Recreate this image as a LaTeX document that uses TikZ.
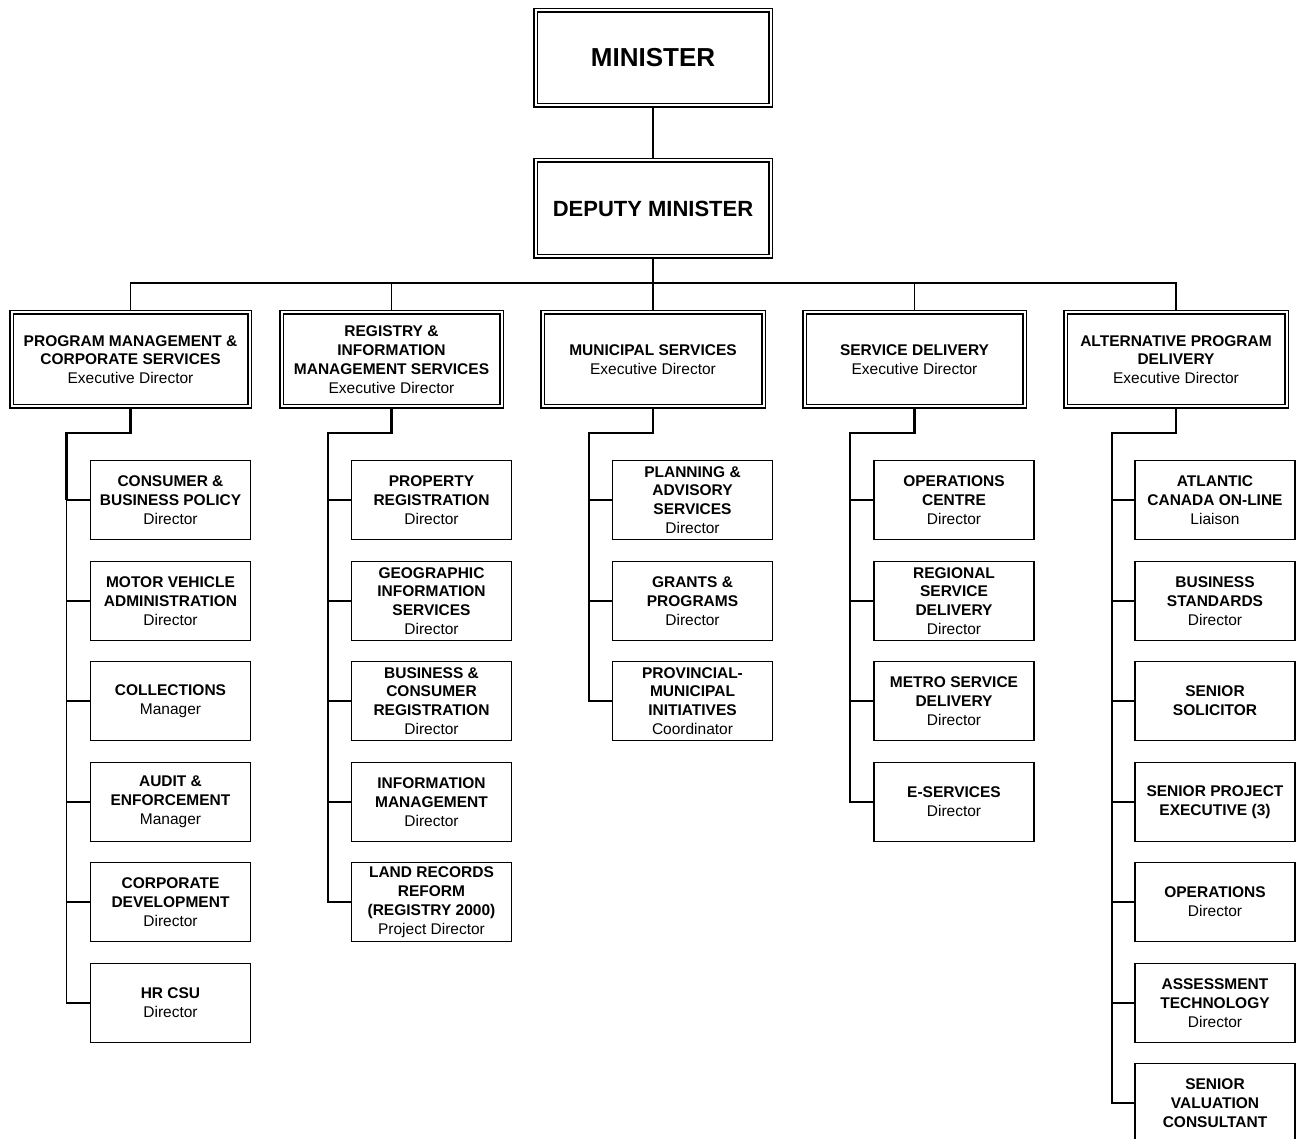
\documentclass[tikz,border=0pt]{standalone}
\usepackage{fontspec}
\setmainfont{Liberation Sans}
\begin{document}
\begin{tikzpicture}[x=1pt,y=-1pt,
  txt/.style={font=\fontsize{15.5}{18.8}\selectfont},
  dbox/.style={draw, line width=1.3pt, double, double distance=2pt, inner sep=0pt, outer sep=2.3pt, align=center, txt},
  cbox/.style={draw, line width=1.3pt, inner sep=0pt, outer sep=0.65pt, align=center, minimum width=160pt, minimum height=79pt, txt},
  link/.style={line width=1.3pt},
  elbow/.style={line width=2.1pt}]
\useasboundingbox (0,0) rectangle (1296,1139);

% top
\node[dbox, minimum width=235pt, minimum height=95pt, font=\fontsize{26}{30}\selectfont\bfseries] (min) at (653,58) {MINISTER};
\node[dbox, minimum width=235pt, minimum height=96pt, font=\fontsize{22}{26}\selectfont\bfseries] (dep) at (653,208.5) {DEPUTY MINISTER};

% executives
\node[dbox, minimum width=238pt, minimum height=94pt] (e1) at (130.5,359.5) {\textbf{PROGRAM MANAGEMENT \&}\\\textbf{CORPORATE SERVICES}\\Executive Director};
\node[dbox, minimum width=220pt, minimum height=94pt] (e2) at (391.5,359.5) {\textbf{REGISTRY \&}\\\textbf{INFORMATION}\\\textbf{MANAGEMENT SERVICES}\\Executive Director};
\node[dbox, minimum width=221pt, minimum height=94pt] (e3) at (653,359.5) {\textbf{MUNICIPAL SERVICES}\\Executive Director};
\node[dbox, minimum width=220pt, minimum height=94pt] (e4) at (914.5,359.5) {\textbf{SERVICE DELIVERY}\\Executive Director};
\node[dbox, minimum width=221pt, minimum height=94pt] (e5) at (1176,359.5) {\textbf{ALTERNATIVE PROGRAM}\\\textbf{DELIVERY}\\Executive Director};

% column 1
\node[cbox] (a1) at (170.5,500) {\textbf{CONSUMER \&}\\\textbf{BUSINESS POLICY}\\Director};
\node[cbox] (a2) at (170.5,601) {\textbf{MOTOR VEHICLE}\\\textbf{ADMINISTRATION}\\Director};
\node[cbox] (a3) at (170.5,701) {\textbf{COLLECTIONS}\\Manager};
\node[cbox] (a4) at (170.5,802) {\textbf{AUDIT \&}\\\textbf{ENFORCEMENT}\\Manager};
\node[cbox] (a5) at (170.5,902) {\textbf{CORPORATE}\\\textbf{DEVELOPMENT}\\Director};
\node[cbox] (a6) at (170.5,1003) {\textbf{HR CSU}\\Director};

% column 2
\node[cbox] (b1) at (431.5,500) {\textbf{PROPERTY}\\\textbf{REGISTRATION}\\Director};
\node[cbox] (b2) at (431.5,601) {\textbf{GEOGRAPHIC}\\\textbf{INFORMATION}\\\textbf{SERVICES}\\Director};
\node[cbox] (b3) at (431.5,701) {\textbf{BUSINESS \&}\\\textbf{CONSUMER}\\\textbf{REGISTRATION}\\Director};
\node[cbox] (b4) at (431.5,802) {\textbf{INFORMATION}\\\textbf{MANAGEMENT}\\Director};
\node[cbox] (b5) at (431.5,902) {\textbf{LAND RECORDS}\\\textbf{REFORM}\\\textbf{(REGISTRY 2000)}\\Project Director};

% column 3
\node[cbox] (c1) at (692.5,500) {\textbf{PLANNING \&}\\\textbf{ADVISORY}\\\textbf{SERVICES}\\Director};
\node[cbox] (c2) at (692.5,601) {\textbf{GRANTS \&}\\\textbf{PROGRAMS}\\Director};
\node[cbox] (c3) at (692.5,701) {\textbf{PROVINCIAL-}\\\textbf{MUNICIPAL}\\\textbf{INITIATIVES}\\Coordinator};

% column 4
\node[cbox] (d1) at (954,500) {\textbf{OPERATIONS}\\\textbf{CENTRE}\\Director};
\node[cbox] (d2) at (954,601) {\textbf{REGIONAL}\\\textbf{SERVICE}\\\textbf{DELIVERY}\\Director};
\node[cbox] (d3) at (954,701) {\textbf{METRO SERVICE}\\\textbf{DELIVERY}\\Director};
\node[cbox] (d4) at (954,802) {\textbf{E-SERVICES}\\Director};

% column 5
\node[cbox] (f1) at (1215,500) {\textbf{ATLANTIC}\\\textbf{CANADA ON-LINE}\\Liaison};
\node[cbox] (f2) at (1215,601) {\textbf{BUSINESS}\\\textbf{STANDARDS}\\Director};
\node[cbox] (f3) at (1215,701) {\textbf{SENIOR}\\\textbf{SOLICITOR}};
\node[cbox] (f4) at (1215,802) {\textbf{SENIOR PROJECT}\\\textbf{EXECUTIVE (3)}};
\node[cbox] (f5) at (1215,902) {\textbf{OPERATIONS}\\Director};
\node[cbox] (f6) at (1215,1003) {\textbf{ASSESSMENT}\\\textbf{TECHNOLOGY}\\Director};
\node[cbox] (f7) at (1215,1103) {\textbf{SENIOR}\\\textbf{VALUATION}\\\textbf{CONSULTANT}};

% top connectors
\coordinate (bus) at (653,283);
\draw[link] (min.south) -- (dep.north);
\draw[link] (dep.south) -- (bus);
\draw[link] (e1.north) |- (bus) -| (e5.north);
\draw[link] (e2.north) -- (e2.north |- bus);
\draw[link] (e3.north) -- (bus);
\draw[link] (e4.north) -- (e4.north |- bus);

% spines
\coordinate (s1) at (66.5,433);
\coordinate (s2) at (328,433);
\coordinate (s3) at (589,433);
\coordinate (s4) at (850,433);
\coordinate (s5) at (1112,433);

\draw[elbow] (e1.south) |- (s1) -- (s1 |- a1.west);
\draw[elbow] (e2.south) |- (s2) -- (s2 |- b1.west);
\draw[elbow] (e3.south) |- (s3) -- (s3 |- c1.west);
\draw[elbow] (e4.south) |- (s4) -- (s4 |- d1.west);
\draw[elbow] (e5.south) |- (s5) -- (s5 |- f1.west);

\draw[link] (s1 |- a1.west) |- (a6.west);
\foreach \n in {a1,a2,a3,a4,a5} \draw[link] (s1 |- \n.west) -- (\n.west);
\draw[link] (s2 |- b1.west) |- (b5.west);
\foreach \n in {b1,b2,b3,b4} \draw[link] (s2 |- \n.west) -- (\n.west);
\draw[link] (s3 |- c1.west) |- (c3.west);
\foreach \n in {c1,c2} \draw[link] (s3 |- \n.west) -- (\n.west);
\draw[link] (s4 |- d1.west) |- (d4.west);
\foreach \n in {d1,d2,d3} \draw[link] (s4 |- \n.west) -- (\n.west);
\draw[link] (s5 |- f1.west) |- (f7.west);
\foreach \n in {f1,f2,f3,f4,f5,f6} \draw[link] (s5 |- \n.west) -- (\n.west);
\end{tikzpicture}
\end{document}
